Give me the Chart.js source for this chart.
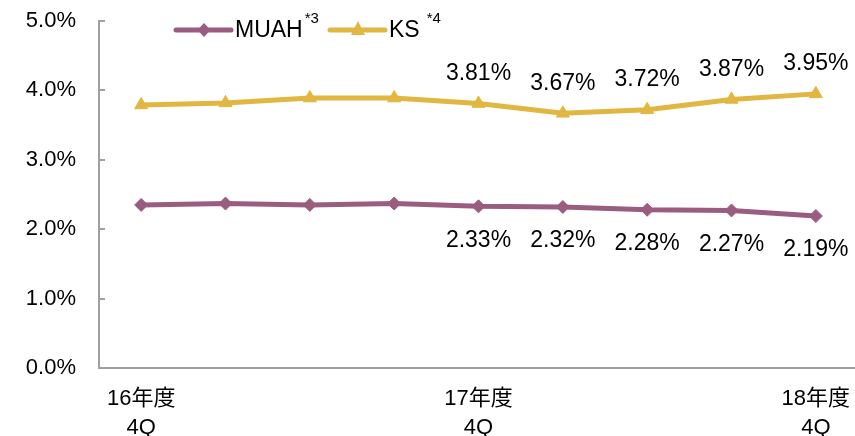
<!DOCTYPE html>
<html>
<head>
<meta charset="utf-8">
<script src="https://cdn.jsdelivr.net/npm/chart.js@4/dist/chart.umd.min.js"></script>
<style>
  html, body { margin: 0; padding: 0; background: #fff; overflow: hidden; width: 855px; height: 436px; }
  #wrap { position: relative; width: 860px; height: 436px; }
</style>
</head>
<body>
<div id="wrap"><canvas id="c" width="860" height="436"></canvas></div>
<script>
// ---- data ----
const categories = ['16年度|4Q', '', '', '', '17年度|4Q', '', '', '', '18年度|4Q'];
const seriesNames = ['MUAH', 'KS'];
const seriesNotes = ['*3', '*4'];
const muahValues = [2.35, 2.37, 2.35, 2.37, 2.33, 2.32, 2.28, 2.27, 2.19];
const ksValues = [3.79, 3.82, 3.89, 3.89, 3.81, 3.67, 3.72, 3.87, 3.95];
const yTicks = [0, 1, 2, 3, 4, 5];
const labelFromIndex = 4;

// ---- styles ----
const FONT = '"Liberation Sans", Arial, "Noto Sans CJK JP", sans-serif';
const PURPLE = '#9A5D80';
const YELLOW = '#E1B641';
const AXIS = '#A0A0A0';

const overlay = {
  id: 'overlay',
  afterDatasetsDraw(chart) {
    const ctx = chart.ctx;
    const ys = chart.scales.y;
    const area = chart.chartArea;
    // inner tick marks on the value axis
    ctx.save();
    ctx.strokeStyle = AXIS;
    ctx.lineWidth = 2;
    yTicks.forEach(v => {
      const y = Math.round(ys.getPixelForValue(v));
      ctx.beginPath();
      ctx.moveTo(area.left, y);
      ctx.lineTo(area.left + 6, y);
      ctx.stroke();
    });
    ctx.restore();

    // data labels
    ctx.save();
    ctx.font = '23px ' + FONT;
    ctx.fillStyle = '#000';
    ctx.textAlign = 'center';
    ctx.textBaseline = 'middle';
    chart.data.datasets.forEach((ds, di) => {
      const meta = chart.getDatasetMeta(di);
      const dy = di === 0 ? 34 : -30;
      ds.data.forEach((v, i) => {
        if (i < labelFromIndex) return;
        const pt = meta.data[i];
        ctx.fillText(v.toFixed(2) + '%', pt.x, pt.y + dy);
      });
    });
    ctx.restore();

    // legend
    const items = [
      { x: 176, color: PURPLE, style: 'diamond' },
      { x: 330, color: YELLOW, style: 'triangle' }
    ];
    ctx.save();
    const ly = 30;
    items.forEach((it, k) => {
      ctx.strokeStyle = it.color;
      ctx.fillStyle = it.color;
      ctx.lineWidth = 5;
      ctx.lineCap = 'round';
      ctx.beginPath();
      ctx.moveTo(it.x, ly);
      ctx.lineTo(it.x + 55, ly);
      ctx.stroke();
      const cx = it.x + 28;
      ctx.beginPath();
      if (it.style === 'diamond') {
        ctx.moveTo(cx, ly - 7); ctx.lineTo(cx + 6.5, ly); ctx.lineTo(cx, ly + 7); ctx.lineTo(cx - 6.5, ly);
      } else {
        ctx.moveTo(cx, ly - 9); ctx.lineTo(cx + 7, ly + 5); ctx.lineTo(cx - 7, ly + 5);
      }
      ctx.closePath();
      ctx.fill();
      ctx.fillStyle = '#000';
      ctx.textAlign = 'left';
      ctx.textBaseline = 'middle';
      ctx.font = '23px ' + FONT;
      const tx = it.x + 59;
      ctx.fillText(seriesNames[k], tx, ly + 1);
      const w = ctx.measureText(seriesNames[k]).width;
      ctx.font = '15px ' + FONT;
      ctx.fillText(seriesNotes[k], tx + w + (k === 0 ? 2 : 7), ly - 11);
    });
    ctx.restore();
  }
};

new Chart(document.getElementById('c'), {
  type: 'line',
  data: {
    labels: categories,
    datasets: [
      {
        label: seriesNames[0],
        data: muahValues,
        borderColor: PURPLE,
        backgroundColor: PURPLE,
        borderWidth: 5,
        pointStyle: 'rectRot',
        pointRadius: 6.5,
        pointBorderWidth: 1,
        tension: 0,
        clip: false
      },
      {
        label: seriesNames[1],
        data: ksValues,
        borderColor: YELLOW,
        backgroundColor: YELLOW,
        borderWidth: 5,
        pointStyle: 'triangle',
        pointRadius: 7.5,
        pointBorderWidth: 1,
        tension: 0,
        clip: false
      }
    ]
  },
  options: {
    responsive: false,
    animation: false,
    events: [],
    layout: { autoPadding: false, padding: { top: 21, right: 2, left: 0, bottom: 0 } },
    plugins: { legend: { display: false }, tooltip: { enabled: false } },
    scales: {
      x: {
        offset: true,
        grid: { display: false, drawTicks: false },
        border: { display: true, color: AXIS, width: 2 },
        ticks: {
          autoSkip: false,
          maxRotation: 0,
          padding: 16,
          color: '#000',
          font: { family: FONT, size: 22, lineHeight: 1.33 },
          callback: function (v, i) {
            const s = categories[i];
            return s ? s.split('|') : '';
          }
        },
        afterFit(scale) {
          scale.height = 68;
          scale.paddingTop = 0; scale.paddingBottom = 0;
          scale.paddingLeft = 0; scale.paddingRight = 0;
        }
      },
      y: {
        min: 0,
        max: 5,
        grid: { drawOnChartArea: false, drawTicks: false },
        border: { display: true, color: AXIS, width: 2 },
        ticks: {
          stepSize: 1,
          padding: 23,
          color: '#000',
          font: { family: FONT, size: 22 },
          callback: v => v.toFixed(1) + '%'
        },
        afterFit(scale) { scale.width = 99; scale.paddingTop = 0; scale.paddingBottom = 0; }
      }
    }
  },
  plugins: [overlay]
});
</script>
</body>
</html>
